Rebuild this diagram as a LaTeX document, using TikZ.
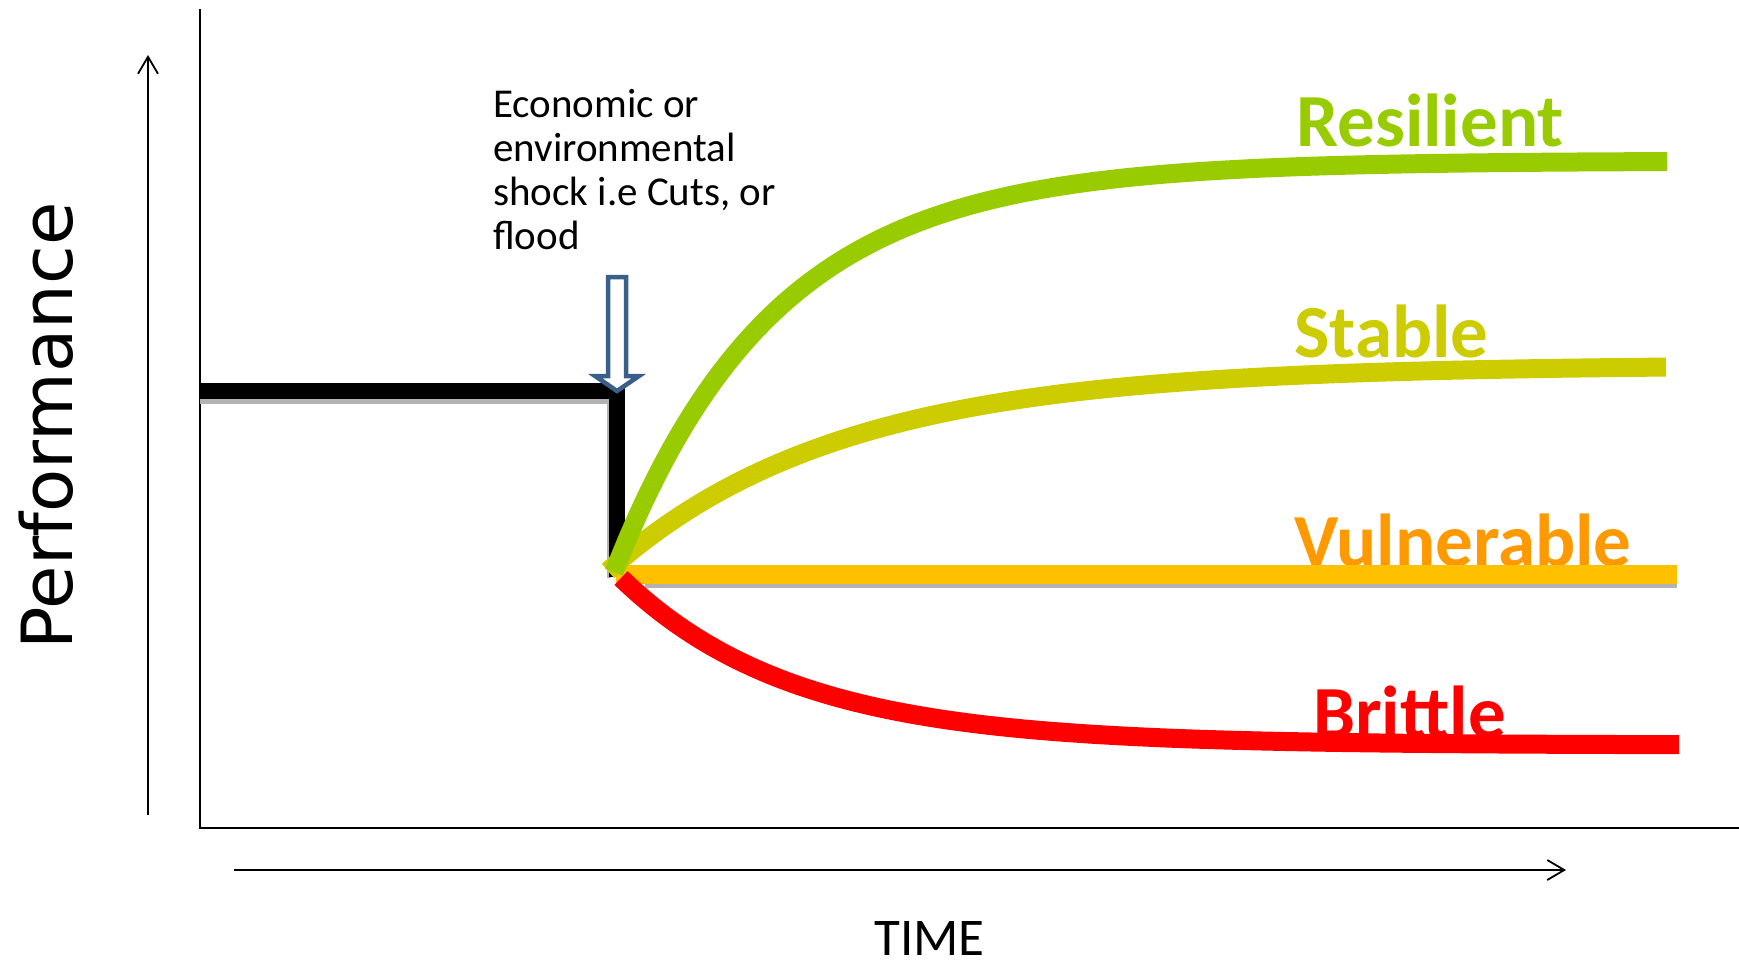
\documentclass[tikz,border=0pt]{standalone}
\usepackage{fontspec}
\setmainfont{Carlito}
\newfontfamily\perffont{DejaVu Sans}
\usetikzlibrary{arrows.meta}
\definecolor{resgreen}{HTML}{99CC00}
\definecolor{stabyel}{HTML}{CCCC00}
\definecolor{vulline}{HTML}{FFC000}
\definecolor{vultext}{HTML}{FF9900}
\definecolor{britred}{HTML}{FF0000}
\definecolor{shockblue}{HTML}{3A5F8B}
\tikzset{
  axisline/.style={line width=2pt, black},
  axisarrow/.style={line width=1.8pt, black, -{Straight Barb[length=17pt,width=20pt,line width=1.8pt]}},
  curve/.style={line width=19pt},
  stepline/.style={line width=16pt, black, line join=miter},
  shadowline/.style={line width=4.5pt, gray!60},
  label/.style={inner sep=0pt, anchor=base west, font=\fontsize{75}{80}\selectfont\bfseries},
  shocktext/.style={inner sep=0pt, anchor=base west, font=\fontsize{41}{44}\selectfont},
}
\begin{document}
\begin{tikzpicture}[x=1pt,y=-1pt]
\useasboundingbox (0,0) rectangle (1739,962);
% frame
\coordinate (ftop) at (200,9);
\coordinate (fcorner) at (200,828);
\coordinate (fright) at (1739,828);
\draw[axisline] (ftop) -- (fcorner) -- (fright);
% axes arrows
\coordinate (ybot) at (148,815);
\coordinate (ytop) at (148,55);
\draw[axisarrow] (ybot) -- (ytop);
\coordinate (xleft) at (234,870);
\coordinate (xright) at (1566,870);
\draw[axisarrow] (xleft) -- (xright);
% axis labels
\node[inner sep=0pt, anchor=base, rotate=90, font=\perffont\fontsize{70.5}{75}\selectfont] (perf) at (72,426) {Performance};
\node[inner sep=0pt, anchor=base west, font=\fontsize{53}{55}\selectfont] (time) at (874,955) {TIME};
% shock text
\node[shocktext] (shock1) at (493,117) {Economic or};
\node[shocktext] (shock2) at (493,161) {environmental};
\node[shocktext] (shock3) at (493,205) {shock i.e Cuts, or};
\node[shocktext] (shock4) at (493,249) {flood};
% curve labels
\node[label, text=resgreen] (lres) at (1296,146) {Resilient};
\node[label, text=stabyel] (lstab) at (1294,357) {Stable};
\node[label, text=vultext] (lvul) at (1294,566) {Vulnerable};
\node[label, text=britred] (lbrit) at (1313,738) {Brittle};
% black step and shadows
\coordinate (s0) at (200,390.5);
\coordinate (s1) at (617,390.5);
\coordinate (s2) at (617,577);
\draw[shadowline] (200,401.5) -- (609,401.5) -- (609,578);
\draw[stepline] (s0) -- (s1) -- (s2);
% vulnerable
\coordinate (v0) at (616,574);
\coordinate (v1) at (1677,574);
\draw[shadowline] (645,586) -- (1677,586);
\draw[curve, vulline] (v0) -- (v1);
% stable
\draw[curve, stabyel] plot[domain=608:1666, samples=150] (\x,{365+206*exp(-(\x-608)/230)});
% resilient
\draw[curve, resgreen] plot[domain=614:1667, samples=150] (\x,{161+411*exp(-(\x-614)/160)});
% brittle
\draw[curve, britred] plot[domain=621:1679, samples=150] (\x,{745-167*exp(-(\x-621)/172)});
% shock arrow
\draw[shockblue, line width=4.5pt, fill=white, line join=miter]
  (608,277) -- (626,277) -- (626,376) -- (639,376) -- (617,391) -- (595,376) -- (608,376) -- cycle;
\end{tikzpicture}
\end{document}
